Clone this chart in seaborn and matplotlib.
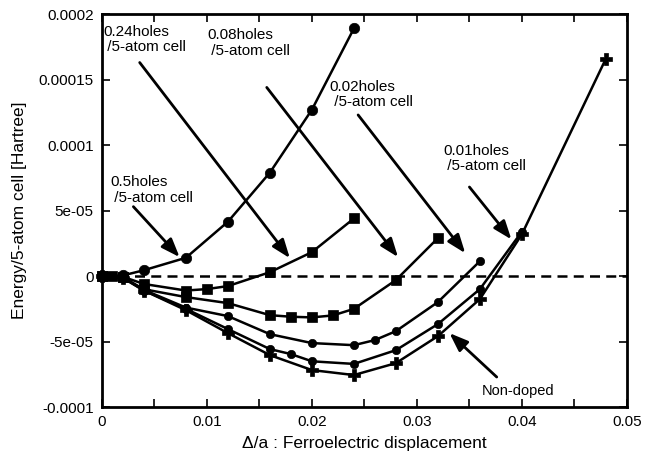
import matplotlib
matplotlib.use('Agg')
import matplotlib.pyplot as plt
import seaborn as sns
import pandas as pd

# displacement (delta/a) and energy per 5-atom cell [Hartree]
x_05 = [0.0, 0.002, 0.004, 0.008, 0.012, 0.016, 0.020, 0.024]
e_05 = [0.0, 0.5e-6, 4.5e-6, 1.4e-5, 4.15e-5, 7.9e-5, 1.27e-4, 1.89e-4]

x_024 = [0.0, 0.001, 0.002, 0.004, 0.008, 0.010, 0.012, 0.016, 0.020, 0.024]
e_024 = [0.0, 0.0, -0.5e-6, -6e-6, -1.1e-5, -9.9e-6, -7.6e-6, 3.0e-6, 1.83e-5, 4.4e-5]

x_008 = [0.0, 0.002, 0.004, 0.008, 0.012, 0.016, 0.018, 0.020, 0.022, 0.024, 0.028, 0.032]
e_008 = [0.0, -1e-6, -1.0e-5, -1.6e-5, -2.06e-5, -2.98e-5, -3.1e-5, -3.15e-5, -3.0e-5, -2.5e-5, -3e-6, 2.9e-5]

x_002 = [0.0, 0.002, 0.004, 0.008, 0.012, 0.016, 0.020, 0.024, 0.026, 0.028, 0.032, 0.036]
e_002 = [0.0, -1e-6, -1.05e-5, -2.4e-5, -3.05e-5, -4.43e-5, -5.11e-5, -5.27e-5, -4.88e-5, -4.2e-5, -1.98e-5, 1.14e-5]

x_001 = [0.0, 0.002, 0.004, 0.008, 0.012, 0.016, 0.018, 0.020, 0.024, 0.028, 0.032, 0.036, 0.040]
e_001 = [0.0, -1e-6, -1.1e-5, -2.5e-5, -4.04e-5, -5.57e-5, -5.95e-5, -6.5e-5, -6.7e-5, -5.65e-5, -3.66e-5, -9.9e-6, 3.4e-5]

x_nd = [0.0, 0.002, 0.004, 0.008, 0.012, 0.016, 0.020, 0.024, 0.028, 0.032, 0.036, 0.040, 0.048]
e_nd = [0.0, -1.5e-6, -1.1e-5, -2.6e-5, -4.35e-5, -6.03e-5, -7.17e-5, -7.55e-5, -6.64e-5, -4.58e-5, -1.75e-5, 3.2e-5, 1.66e-4]

xticks = [0, 0.01, 0.02, 0.03, 0.04, 0.05]
xticklabels = ['0', '0.01', '0.02', '0.03', '0.04', '0.05']
yticks = [-1e-4, -5e-5, 0, 5e-5, 1e-4, 1.5e-4, 2e-4]
yticklabels = ['-0.0001', '-5e-05', '0', '5e-05', '0.0001', '0.00015', '0.0002']

sns.set_theme(style='ticks')
plt.rcParams['font.family'] = ['Liberation Sans', 'DejaVu Sans']
plt.rcParams['text.color'] = 'black'
plt.rcParams['axes.labelcolor'] = 'black'

fig = plt.figure(figsize=(6.49, 4.68), dpi=100)
ax = fig.add_axes([0.157, 0.130, 0.809, 0.840])

curves = [
    (x_05, e_05, 'o', 7.5),
    (x_024, e_024, 's', 6.5),
    (x_008, e_008, 's', 6.5),
    (x_002, e_002, 'o', 6),
    (x_001, e_001, 'o', 6),
    (x_nd, e_nd, 'P', 8),
]
for xs, es, mk, ms in curves:
    df = pd.DataFrame({'x': xs, 'e': es})
    sns.lineplot(data=df, x='x', y='e', ax=ax, color='black', lw=1.8,
                 marker=mk, markersize=ms, markeredgecolor='black',
                 markeredgewidth=0.5, clip_on=False, legend=False)

ax.axhline(0, color='black', lw=1.8, ls=(0, (4, 2.5)), zorder=1)

ax.set_xlim(0, 0.05)
ax.set_ylim(-1e-4, 2e-4)
ax.set_xticks(xticks)
ax.set_xticklabels(xticklabels)
ax.set_xticks([0.005, 0.015, 0.025, 0.035, 0.045], minor=True)
ax.set_yticks(yticks)
ax.set_yticklabels(yticklabels)
ax.tick_params(which='both', direction='in', top=True, right=True,
               width=1.2, labelsize=11, colors='black', pad=6)
ax.tick_params(which='major', length=6)
ax.tick_params(which='minor', length=6)
for s in ax.spines.values():
    s.set_linewidth(2)
    s.set_color('black')

ax.set_xlabel('\u0394/a : Ferroelectric displacement', fontsize=12.5, labelpad=5)
ax.set_ylabel('Energy/5-atom cell [Hartree]', fontsize=12.5, labelpad=8)

labels = [
    ('0.24holes\n /5-atom cell', (0.0001, 1.92e-4), (0.0036, 1.63e-4), (0.0179, 1.37e-5)),
    ('0.08holes\n /5-atom cell', (0.0100, 1.89e-4), (0.0157, 1.44e-4), (0.0282, 1.45e-5)),
    ('0.02holes\n /5-atom cell', (0.0217, 1.50e-4), (0.0244, 1.23e-4), (0.0346, 1.75e-5)),
    ('0.01holes\n /5-atom cell', (0.0325, 1.01e-4), (0.0350, 6.8e-5), (0.0390, 2.8e-5)),
    ('0.5holes\n /5-atom cell', (0.0008, 7.7e-5), (0.0030, 5.3e-5), (0.0074, 1.45e-5)),
]
arrow = dict(arrowstyle='-|>,head_length=0.8,head_width=0.3', color='black',
             lw=2, mutation_scale=14, shrinkA=0, shrinkB=0)
for txt, tpos, tail, head in labels:
    ax.text(tpos[0], tpos[1], txt, fontsize=11, ha='left', va='top',
            linespacing=1.15)
    ax.annotate('', xy=head, xytext=tail, arrowprops=arrow)

ax.text(0.0396, -8.75e-5, 'Non-doped', fontsize=10.5, ha='center', va='center')
ax.annotate('', xy=(0.0331, -4.35e-5), xytext=(0.0376, -7.7e-5), arrowprops=arrow)

fig.savefig('out.png', dpi=100)
